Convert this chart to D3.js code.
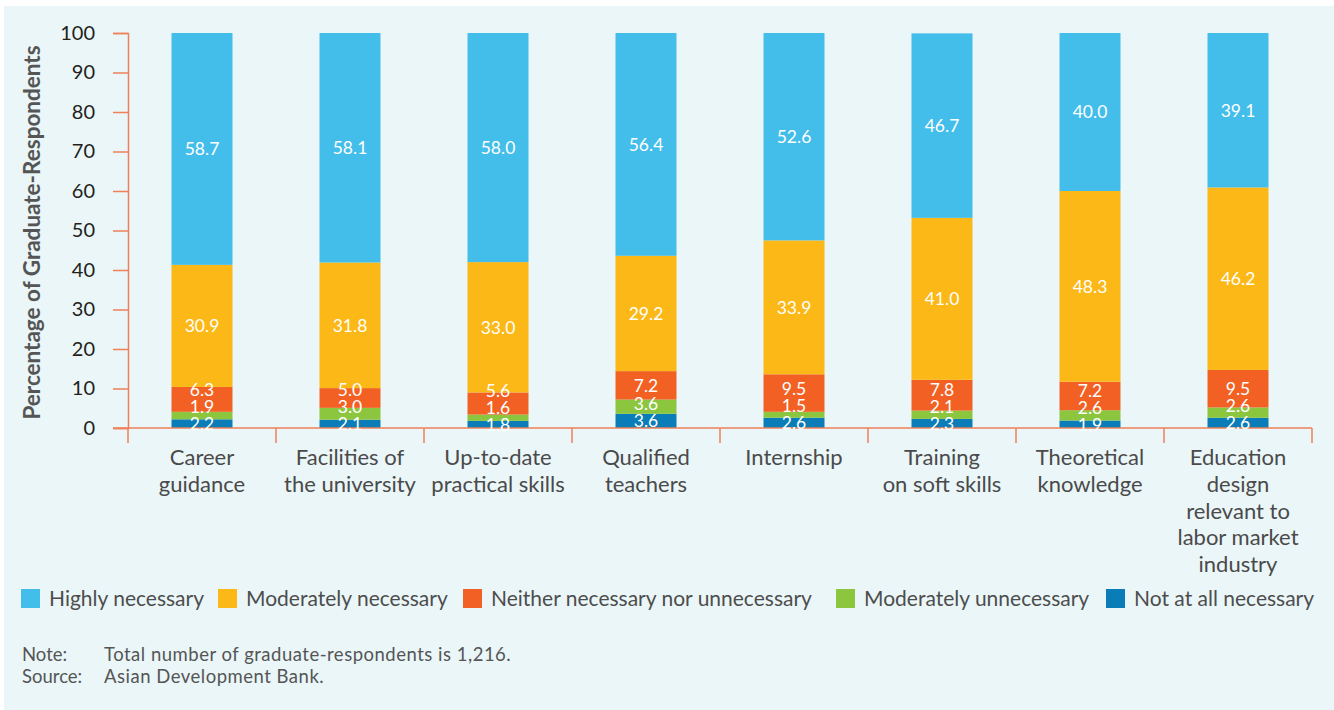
<!DOCTYPE html>
<html>
<head>
<meta charset="utf-8">
<script src="https://cdn.jsdelivr.net/npm/d3@7"></script>
<style>
  html, body { margin: 0; padding: 0; background: #ffffff; }
  svg { display: block; }
  text { font-family: Lato, "Open Sans", sans-serif; }
</style>
</head>
<body>
<svg id="chart" width="1334" height="710"></svg>
<script>
// ---------------- DATA ----------------
const categories = [
  ["Career", "guidance"],
  ["Facilities of", "the university"],
  ["Up-to-date", "practical skills"],
  ["Qualified", "teachers"],
  ["Internship"],
  ["Training", "on soft skills"],
  ["Theoretical", "knowledge"],
  ["Education", "design", "relevant to", "labor market", "industry"]
];
const seriesNames = ["Not at all necessary", "Moderately unnecessary", "Neither necessary nor unnecessary", "Moderately necessary", "Highly necessary"];
const notAtAll       = [2.2, 2.1, 1.8, 3.6, 2.6, 2.3, 1.9, 2.6];
const modUnnecessary = [1.9, 3.0, 1.6, 3.6, 1.5, 2.1, 2.6, 2.6];
const neither        = [6.3, 5.0, 5.6, 7.2, 9.5, 7.8, 7.2, 9.5];
const moderately     = [30.9, 31.8, 33.0, 29.2, 33.9, 41.0, 48.3, 46.2];
const highly         = [58.7, 58.1, 58.0, 56.4, 52.6, 46.7, 40.0, 39.1];
const yTicks = [0, 10, 20, 30, 40, 50, 60, 70, 80, 90, 100];
const legendOrder = ["Highly necessary", "Moderately necessary", "Neither necessary nor unnecessary", "Moderately unnecessary", "Not at all necessary"];
const yTitle = "Percentage of Graduate-Respondents";
const noteLines = [["Note:", "Total number of graduate-respondents is 1,216."], ["Source:", "Asian Development Bank."]];

// ---------------- STYLE / LAYOUT ----------------
const colors = {
  "Not at all necessary": "#0a7db8",
  "Moderately unnecessary": "#8cc63f",
  "Neither necessary nor unnecessary": "#f26123",
  "Moderately necessary": "#fbb816",
  "Highly necessary": "#43bde9"
};
const axisColor = "#ef8058";
const W = 1334, H = 710;
const plot = { left: 128, right: 1312, top: 33, bottom: 428 };
const legendX = [21, 218, 463, 836, 1106];

const svg = d3.select("#chart");
svg.append("rect").attr("x", 4).attr("y", 6).attr("width", W - 4).attr("height", H - 6).attr("fill", "#eaf6f8");

const seriesVals = [notAtAll, modUnnecessary, neither, moderately, highly];
const rows = categories.map((c, i) => {
  const r = { idx: i };
  seriesNames.forEach((s, j) => r[s] = seriesVals[j][i]);
  return r;
});
const stacked = d3.stack().keys(seriesNames)(rows);

const x = d3.scaleBand().domain(d3.range(categories.length)).range([plot.left, plot.right]).paddingInner(0).paddingOuter(0);
const y = d3.scaleLinear().domain([0, 100]).range([plot.bottom, plot.top]).clamp(true);
const barW = x.bandwidth() * 0.412;

// bars
const g = svg.append("g");
stacked.forEach(layer => {
  g.selectAll(null).data(layer).enter().append("rect")
    .attr("x", (d, i) => x(i) + x.bandwidth() / 2 - barW / 2)
    .attr("width", barW)
    .attr("y", d => y(d[1]))
    .attr("height", d => y(d[0]) - y(d[1]))
    .attr("fill", colors[layer.key]);
});

// y axis
const yAxis = d3.axisLeft(y).tickValues(yTicks).tickSize(15).tickPadding(18).tickFormat(d3.format("d"));
const ya = svg.append("g").attr("transform", `translate(${plot.left},0)`).call(yAxis);
ya.select(".domain").attr("stroke", axisColor).attr("stroke-width", 1.5);
ya.selectAll(".tick line").attr("stroke", axisColor).attr("stroke-width", 1.5);
ya.selectAll(".tick text").attr("font-size", 20).attr("fill", "#231f20").attr("font-family", "Lato, sans-serif");

// x axis baseline and separators
const xa = svg.append("g").attr("transform", `translate(0,${plot.bottom})`);
xa.append("line").attr("x1", plot.left - 15).attr("x2", plot.right).attr("stroke", axisColor).attr("stroke-width", 1.5);
const seps = d3.range(categories.length + 1).map(i => i === categories.length ? plot.right : x(i));
xa.selectAll(".sep").data(seps).enter().append("line")
  .attr("x1", d => d).attr("x2", d => d).attr("y1", 0).attr("y2", 15)
  .attr("stroke", axisColor).attr("stroke-width", 1.5);

// category labels
categories.forEach((lines, i) => {
  const t = svg.append("text").attr("text-anchor", "middle").attr("font-size", 22).attr("fill", "#4a4a4a");
  lines.forEach((ln, k) => {
    t.append("tspan").attr("x", x(i) + x.bandwidth() / 2).attr("y", 465 + k * 26.8).text(ln);
  });
});

// value labels
const fmt = d3.format(".1f");
const spacing = 17;
rows.forEach((r, i) => {
  const cx = x(i) + x.bandwidth() / 2;
  let limit = Infinity;
  stacked.forEach((layer, j) => {
    const d = layer[i];
    let cy = (y(d[0]) + y(d[1])) / 2;
    if (j < 3) {
      cy = Math.min(cy, limit);
      limit = cy - spacing;
    }
    svg.append("text").attr("x", cx).attr("y", cy).attr("dy", "0.36em")
      .attr("text-anchor", "middle").attr("font-size", 17.5).attr("fill", "#ffffff")
      .text(fmt(d.data[layer.key]));
  });
});

// y title
svg.append("text").attr("transform", `translate(40,${(plot.top + plot.bottom) / 2 + 2}) rotate(-90)`)
  .attr("text-anchor", "middle").attr("font-size", 22.5).attr("font-weight", 700).attr("fill", "#555555")
  .text(yTitle);

// legend
const lg = svg.append("g");
legendOrder.forEach((name, i) => {
  lg.append("rect").attr("x", legendX[i]).attr("y", 589).attr("width", 19).attr("height", 19).attr("fill", colors[name]);
  lg.append("text").attr("x", legendX[i] + 28).attr("y", 606).attr("font-size", 21).attr("fill", "#4d4d4d").text(name);
});

// notes
noteLines.forEach((ln, k) => {
  svg.append("text").attr("x", 22).attr("y", 661 + k * 22).attr("font-size", 18.5).attr("fill", "#555555").text(ln[0]);
  svg.append("text").attr("x", 104).attr("y", 661 + k * 22).attr("font-size", 18.5).attr("letter-spacing", 0.5).attr("fill", "#555555").text(ln[1]);
});
</script>
</body>
</html>
